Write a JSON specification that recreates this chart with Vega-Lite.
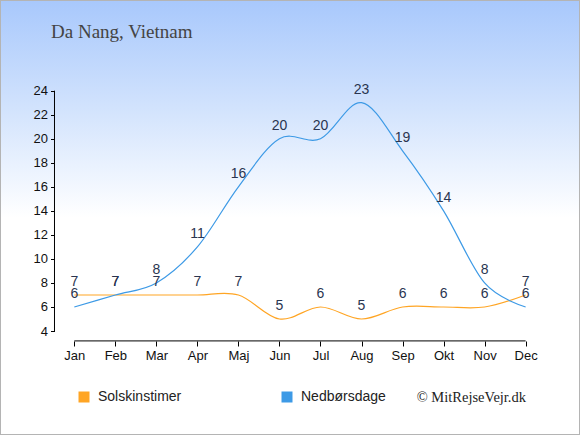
{
  "$schema": "https://vega.github.io/schema/vega-lite/v6.json",
  "width": 580,
  "height": 435,
  "padding": 0,
  "autosize": {"type": "none"},
  "background": "#ffffff",
  "config": {"view": {"stroke": null}},
  "datasets": {
    "main": [
      {"m": 1, "series": "Solskinstimer", "v": 7},
      {"m": 2, "series": "Solskinstimer", "v": 7},
      {"m": 3, "series": "Solskinstimer", "v": 7},
      {"m": 4, "series": "Solskinstimer", "v": 7},
      {"m": 5, "series": "Solskinstimer", "v": 7},
      {"m": 6, "series": "Solskinstimer", "v": 5},
      {"m": 7, "series": "Solskinstimer", "v": 6},
      {"m": 8, "series": "Solskinstimer", "v": 5},
      {"m": 9, "series": "Solskinstimer", "v": 6},
      {"m": 10, "series": "Solskinstimer", "v": 6},
      {"m": 11, "series": "Solskinstimer", "v": 6},
      {"m": 12, "series": "Solskinstimer", "v": 7},
      {"m": 1, "series": "Nedbørsdage", "v": 6},
      {"m": 2, "series": "Nedbørsdage", "v": 7},
      {"m": 3, "series": "Nedbørsdage", "v": 8},
      {"m": 4, "series": "Nedbørsdage", "v": 11},
      {"m": 5, "series": "Nedbørsdage", "v": 16},
      {"m": 6, "series": "Nedbørsdage", "v": 20},
      {"m": 7, "series": "Nedbørsdage", "v": 20},
      {"m": 8, "series": "Nedbørsdage", "v": 23},
      {"m": 9, "series": "Nedbørsdage", "v": 19},
      {"m": 10, "series": "Nedbørsdage", "v": 14},
      {"m": 11, "series": "Nedbørsdage", "v": 8},
      {"m": 12, "series": "Nedbørsdage", "v": 6}
    ],
    "one": [{"k": 1}]
  },
  "layer": [
    {
      "data": {"name": "one"},
      "mark": {
        "type": "rect",
        "stroke": "#b4b4b4",
        "strokeWidth": 2,
        "fill": {
          "gradient": "linear",
          "x1": 0, "y1": 0, "x2": 0, "y2": 1,
          "stops": [
            {"offset": 0, "color": "#a8c8fc"},
            {"offset": 0.25, "color": "#d2e3fd"},
            {"offset": 0.5, "color": "#ffffff"},
            {"offset": 1, "color": "#ffffff"}
          ]
        }
      },
      "encoding": {}
    },
    {
      "data": {"name": "main"},
      "mark": {"type": "line", "interpolate": "cardinal", "strokeWidth": 1.2},
      "encoding": {
        "x": {
          "field": "m", "type": "quantitative",
          "scale": {"domain": [-0.811, 13.325], "nice": false, "zero": false},
          "axis": {
            "orient": "bottom", "offset": -94, "domain": false, "grid": false, "zindex": 2,
            "values": [1, 2, 3, 4, 5, 6, 7, 8, 9, 10, 11, 12],
            "labelExpr": "['Jan','Feb','Mar','Apr','Maj','Jun','Jul','Aug','Sep','Okt','Nov','Dec'][datum.value - 1]",
            "tickSize": 5, "tickColor": "#000000", "labelColor": "#111111",
            "labelFont": "Liberation Sans", "labelFontSize": 13, "labelPadding": 3,
            "title": null
          }
        },
        "y": {
          "field": "v", "type": "quantitative",
          "scale": {"domain": [-4.652, 31.546], "nice": false, "zero": false},
          "axis": {
            "orient": "left", "offset": -54.5, "domain": false, "grid": false, "zindex": 2,
            "values": [4, 6, 8, 10, 12, 14, 16, 18, 20, 22, 24],
            "tickSize": 4, "tickColor": "#000000", "labelColor": "#111111",
            "labelFont": "Liberation Sans", "labelFontSize": 13, "labelPadding": 3,
            "title": null
          }
        },
        "color": {
          "field": "series", "type": "nominal",
          "scale": {"domain": ["Solskinstimer", "Nedbørsdage"], "range": ["#ffa524", "#3d9ae6"]},
          "legend": {
            "orient": "none", "legendX": 77, "legendY": 390, "direction": "horizontal", "zindex": 2,
            "title": null, "symbolType": "square", "symbolSize": 121,
            "labelFont": "Liberation Sans", "labelFontSize": 14, "labelColor": "#222222",
            "labelOffset": 7, "columnPadding": 98,
            "encode": {
              "symbols": {"update": {"fill": {"scale": "color", "field": "value"}, "strokeWidth": {"value": 0}, "opacity": {"value": 1}}}
            }
          }
        }
      }
    },
    {
      "data": {"name": "one"},
      "mark": {"type": "rule", "color": "#000000", "strokeWidth": 1},
      "encoding": {
        "x": {"datum": 0.517, "type": "quantitative"},
        "y": {"datum": 4, "type": "quantitative"},
        "y2": {"datum": 24}
      }
    },
    {
      "data": {"name": "one"},
      "mark": {"type": "rule", "color": "#000000", "strokeWidth": 1},
      "encoding": {
        "x": {"datum": 1, "type": "quantitative"},
        "x2": {"datum": 12},
        "y": {"datum": 3.177, "type": "quantitative"}
      }
    },
    {
      "data": {"name": "main"},
      "mark": {"type": "text", "dy": -13, "fontSize": 14, "font": "Liberation Sans", "color": "#2a3550"},
      "encoding": {
        "x": {"field": "m", "type": "quantitative"},
        "y": {"field": "v", "type": "quantitative"},
        "text": {"field": "v", "type": "quantitative"}
      }
    },
    {
      "data": {"name": "one"},
      "mark": {"type": "text", "align": "left", "baseline": "middle", "fontSize": 19, "font": "Liberation Serif", "color": "#444444", "text": "Da Nang, Vietnam"},
      "encoding": {
        "x": {"datum": 0.432, "type": "quantitative"},
        "y": {"datum": 28.884, "type": "quantitative"}
      }
    },
    {
      "data": {"name": "one"},
      "mark": {"type": "text", "align": "right", "baseline": "middle", "fontSize": 14.5, "font": "Liberation Serif", "color": "#222222", "text": "© MitRejseVejr.dk"},
      "encoding": {
        "x": {"datum": 12.009, "type": "quantitative"},
        "y": {"datum": -1.566, "type": "quantitative"}
      }
    }
  ]
}
